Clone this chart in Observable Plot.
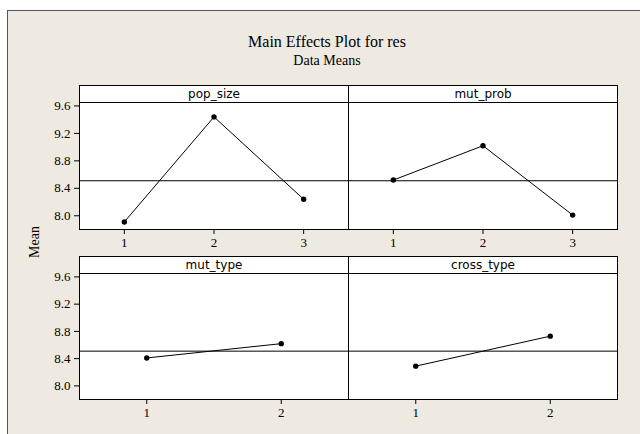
<!DOCTYPE html>
<html><head><meta charset="utf-8">
<script src="https://cdn.jsdelivr.net/npm/d3@7"></script>
<script src="https://cdn.jsdelivr.net/npm/@observablehq/plot@0.6"></script>
<style>
html,body{margin:0;padding:0;background:#fff;}
#page{position:relative;width:640px;height:434px;overflow:hidden;background:#fff;}
#panel{position:absolute;left:7px;top:10px;width:700px;height:500px;background:#EEEAE1;border-left:1px solid #555;border-top:1px solid #555;}
.t{position:absolute;font-family:"Liberation Serif",serif;color:#000;white-space:nowrap;line-height:1;}
.row{position:absolute;left:0;}
.row svg{display:block;}
.row svg text{font-family:"Liberation Serif",serif;font-size:13px;fill:#000;}
.row svg text.strip{font-family:"DejaVu Sans",sans-serif;font-size:12px;}
</style></head><body>
<div id="page"><div id="panel"></div>
<div class="t" style="left:127px;width:400px;text-align:center;top:34px;font-size:16px">Main Effects Plot for res</div>
<div class="t" style="left:127px;width:400px;text-align:center;top:54px;font-size:14px">Data Means</div>
<div class="t" style="left:6px;top:234px;width:60px;height:16px;font-size:14px;text-align:center;transform:rotate(-90deg);transform-origin:center">Mean</div>
<div class="row" id="r1" style="top:85px"></div>
<div class="row" id="r2" style="top:256px"></div>
</div>
<script>
const factorNamesTop = ["pop_size", "mut_prob"];
const factorNamesBottom = ["mut_type", "cross_type"];
const levelsTop = [1, 2, 3];
const levelsBottom = [1, 2];
const popSize = [7.91, 9.44, 8.24];
const mutProb = [8.52, 9.02, 8.01];
const mutType = [8.41, 8.62];
const crossType = [8.29, 8.73];
const grandMean = 8.51;
const yTicks = [8.0, 8.4, 8.8, 9.2, 9.6];
const yDomain = [7.80, 9.65];

function rowPlot(names, series, levels, height) {
  const stripPx = 17, marginBottom = 28;
  const plotPx = height - marginBottom - stripPx;
  const stripTop = yDomain[1] + stripPx * (yDomain[1] - yDomain[0]) / plotPx;
  const data = names.flatMap((name, j) => series[j].map((v, i) => ({factor: name, level: levels[i], mean: v})));
  const svg = Plot.plot({
    width: 640, height,
    marginLeft: 79, marginRight: 23, marginTop: 0, marginBottom,
    style: {background: "transparent", color: "#000", overflow: "visible"},
    facet: {data, x: "factor"},
    fx: {domain: names, padding: 0, axis: null, label: null},
    x: {domain: [levels[0] - 0.5, levels[levels.length - 1] + 0.5], ticks: levels, tickFormat: d3.format("d"), tickSize: 5, tickPadding: 3, label: null},
    y: {domain: [yDomain[0], stripTop], ticks: yTicks, tickFormat: d3.format(".1f"), tickSize: 5, tickPadding: 4, label: null},
    marks: [
      Plot.frame({fill: "white", stroke: "black"}),
      Plot.ruleY([yDomain[1]], {stroke: "black"}),
      Plot.ruleY([grandMean], {stroke: "black"}),
      Plot.line(data, {x: "level", y: "mean", stroke: "black", strokeWidth: 1}),
      Plot.dot(data, {x: "level", y: "mean", r: 2.7, fill: "black", stroke: "none"}),
      Plot.text(data, Plot.selectFirst({text: "factor", frameAnchor: "top", lineAnchor: "middle", dy: stripPx / 2}))
    ]
  });
  // tag the strip labels so they take the sans-serif face
  svg.querySelectorAll('g[aria-label="text"] text').forEach(t => t.classList.add("strip"));
  return svg;
}

document.getElementById("r1").append(rowPlot(factorNamesTop, [popSize, mutProb], levelsTop, 172));
document.getElementById("r2").append(rowPlot(factorNamesBottom, [mutType, crossType], levelsBottom, 171));
</script>
</body></html>
